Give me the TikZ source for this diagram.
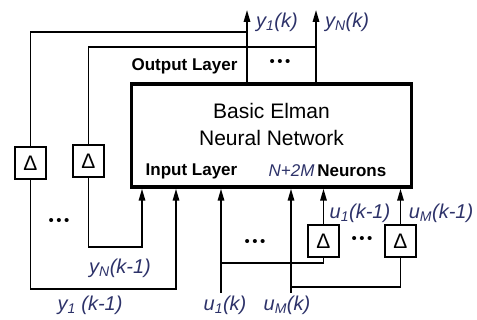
\documentclass[tikz,border=0pt]{standalone}
\usepackage{fontspec}
\setmainfont{Liberation Sans}
\usetikzlibrary{arrows.meta}
\definecolor{sigblue}{RGB}{45,50,105}

\begin{document}
\begin{tikzpicture}[x=1pt,y=-1pt,line width=1.6pt,
    >={Triangle[length=12pt,width=6.5pt]},
    delay/.style={draw,line width=1.8pt,minimum width=31pt,minimum height=32pt,
      inner sep=0pt,font=\fontsize{21}{21}\selectfont},
    sig/.style={inner sep=0pt,text=sigblue,font=\fontsize{20}{24}\selectfont\itshape},
    layer/.style={inner sep=0pt,font=\fontsize{17}{20}\selectfont\bfseries},
    dots/.style={inner sep=0pt,font=\fontsize{15}{15}\selectfont}]
    \useasboundingbox (0,0) rectangle (477,320);

    % the network
    \node[draw,line width=3.5pt,minimum width=280pt,minimum height=103pt] (elman) at (271.5,135.5) {};
    \node[align=center,font=\fontsize{21}{27}\selectfont] (title) at (271.5,124) {Basic Elman\\Neural Network};
    \node[layer] (outl) at (184.5,66) {Output Layer};
    \node[layer] (inl) at (191.5,171) {Input Layer};
    \node[layer] (neur) at (327.5,171) {\textcolor{sigblue}{\mdseries\itshape N+2M}\,Neurons};

    % delay units
    \node[delay] (dy1) at (30.5,163) {Δ};
    \node[delay] (dyN) at (88.5,161) {Δ};
    \node[delay] (du1) at (323.5,241) {Δ};
    \node[delay] (duM) at (400.5,241) {Δ};

    % free ends and bends
    \coordinate (y1out) at (247,10);
    \coordinate (yNout) at (316,10);
    \coordinate (top1) at (0,32);
    \coordinate (top2) at (0,47);
    \coordinate (y1back) at (176,289);
    \coordinate (yNback) at (142,247);
    \coordinate (u1in) at (221,293);
    \coordinate (u1br) at (221,263);
    \coordinate (uMin) at (291,293);
    \coordinate (uMbr) at (291,287);

    % outputs and feedback
    \draw[->] (elman.north -| y1out) to (y1out);
    \draw[->] (elman.north -| yNout) to (yNout);
    \draw (dy1.north) |- (top1 -| y1out);
    \draw (dyN.north) |- (top2 -| yNout);
    \draw[->] (dy1.south) |- (y1back) to (y1back |- elman.south);
    \draw[->] (dyN.south) |- (yNback) to (yNback |- elman.south);

    % inputs
    \draw[->] (u1in) to (u1in |- elman.south);
    \draw[->] (uMin) to (uMin |- elman.south);
    \draw (u1br) -| (du1.south);
    \draw (uMbr) -| (duM.south);
    \draw[->] (du1.north) to (du1.north |- elman.south);
    \draw[->] (duM.north) to (duM.north |- elman.south);

    % signal names
    \node[sig] (y1k) at (277,22) {y\textsubscript{1}(k)};
    \node[sig] (yNk) at (347,22) {y\textsubscript{N}(k)};
    \node[sig] (yNk1) at (120,268) {y\textsubscript{N}(k-1)};
    \node[sig] (y1k1) at (90,305) {y\textsubscript{1} (k-1)};
    \node[sig] (u1k) at (225,305) {u\textsubscript{1}(k)};
    \node[sig] (uMk) at (287,305) {u\textsubscript{M}(k)};
    \node[sig] (u1k1) at (360,213) {u\textsubscript{1}(k-1)};
    \node[sig] (uMk1) at (441,213) {u\textsubscript{M}(k-1)};

    % dots
    \node[dots] (dotsout) at (280,63) {•\,•\,•};
    \node[dots] (dotsfb) at (59,222) {•\,•\,•};
    \node[dots] (dotsin) at (255,243) {•\,•\,•};
    \node[dots] (dotsdel) at (362,240) {•\,•\,•};
\end{tikzpicture}
\end{document}
